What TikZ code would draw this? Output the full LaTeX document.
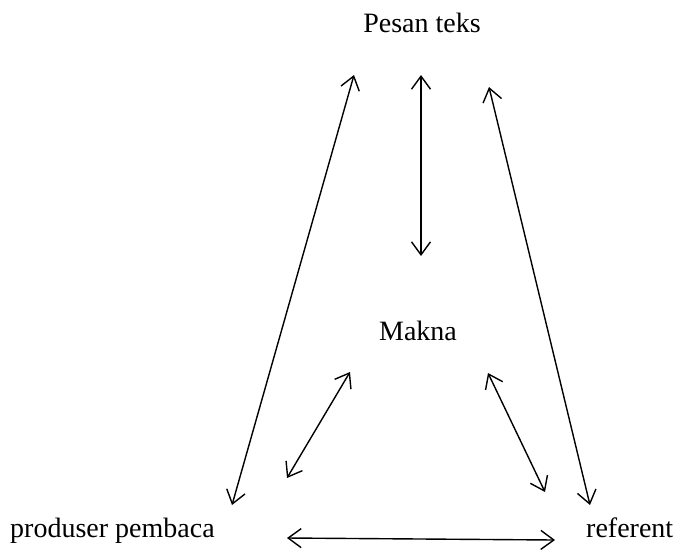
\documentclass[tikz,border=0pt]{standalone}
\usepackage{fontspec}
\setmainfont{Liberation Serif}
\usetikzlibrary{arrows.meta}
\begin{document}
\begin{tikzpicture}[x=1pt,y=-1pt,
  lbl/.style={inner sep=0pt,font=\fontsize{28}{32}\selectfont},
  dbl/.style={{Straight Barb[length=13pt,width=19pt]}-{Straight Barb[length=13pt,width=19pt]},line width=1.4pt}]
\useasboundingbox (0,0) rectangle (677,550);
\node[lbl,anchor=base] (pesan) at (422,32) {Pesan teks};
\node[lbl,anchor=base] (makna) at (418,340) {Makna};
\node[lbl,anchor=base west] (prod) at (10,537) {produser pembaca};
\node[lbl,anchor=base west] (ref) at (586,537) {referent};
\coordinate (a1) at (354,75);  \coordinate (b1) at (232,505);
\coordinate (a2) at (421,75);  \coordinate (b2) at (421,256);
\coordinate (a3) at (489,87);  \coordinate (b3) at (590,505);
\coordinate (a4) at (350,372); \coordinate (b4) at (287,478);
\coordinate (a5) at (488,373); \coordinate (b5) at (545,492);
\coordinate (a6) at (287,538); \coordinate (b6) at (555,540);
\draw[dbl] (a1) -- (b1);
\draw[dbl] (a2) -- (b2);
\draw[dbl] (a3) -- (b3);
\draw[dbl] (a4) -- (b4);
\draw[dbl] (a5) -- (b5);
\draw[dbl] (a6) -- (b6);
\end{tikzpicture}
\end{document}
